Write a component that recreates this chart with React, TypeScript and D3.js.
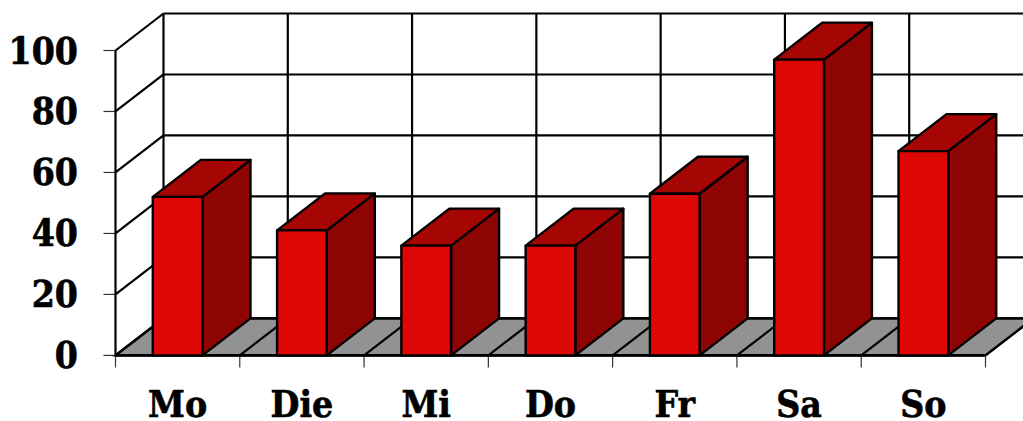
import { FC } from 'react';
import * as d3 from 'd3';

const days = ['Mo', 'Die', 'Mi', 'Do', 'Fr', 'Sa', 'So'];
const values = [52, 41, 36, 36, 53, 97, 67];
const yTicks = [0, 20, 40, 60, 80, 100];

const width = 1023;
const height = 421;
const depthX = 48;
const depthY = -37;
const labelFont = '"DejaVu Serif Condensed", "DejaVu Serif", serif';

const x = d3.scaleBand<string>()
  .domain(days)
  .range([115.5, 985.5])
  .paddingInner(0.6)
  .paddingOuter(0.3);

const y = d3.scaleLinear().domain([0, 100]).range([355.4, 50.5]);

const pts = (list: [number, number][]) => list.map(p => p.join(',')).join(' ');

const App: FC = () => {
  const x0 = x.range()[0];
  const x1 = x.range()[1];
  const step = x.step();
  const xEdges = days.map((_, i) => x0 + i * step).concat(x1);
  const stroke = { stroke: '#000', strokeLinejoin: 'round' as const };

  return (
    <svg
      width={width}
      height={height}
      style={{ position: 'absolute', left: 0, top: 0, background: '#fff' }}
    >
      {/* floor */}
      <polygon
        points={pts([
          [x0, y(0)],
          [x1, y(0)],
          [x1 + depthX, y(0) + depthY],
          [x0 + depthX, y(0) + depthY],
        ])}
        fill="#929292"
        stroke="#000"
        strokeWidth={2.2}
      />

      {/* back wall and side wall */}
      {yTicks.map(t => (
        <g key={t} {...stroke} strokeWidth={2.2}>
          <line x1={x0} y1={y(t)} x2={x0 + depthX} y2={y(t) + depthY} />
          <line x1={x0 + depthX} y1={y(t) + depthY} x2={x1 + depthX} y2={y(t) + depthY} />
          <line x1={x0 - 12} y1={y(t)} x2={x0} y2={y(t)} strokeWidth={1.2} stroke="#333" />
        </g>
      ))}
      {xEdges.map((e, i) => (
        <g key={i} {...stroke}>
          <line x1={e} y1={y(0)} x2={e + depthX} y2={y(0) + depthY} strokeWidth={2.2} />
          <line x1={e + depthX} y1={y(0) + depthY} x2={e + depthX} y2={y(100) + depthY} strokeWidth={2.2} />
          <line x1={e} y1={y(0)} x2={e} y2={y(0) + 12} strokeWidth={1.2} stroke="#333" />
        </g>
      ))}
      <line x1={x0} y1={y(0)} x2={x0} y2={y(100)} {...stroke} strokeWidth={2.2} />
      <line x1={x0} y1={y(0)} x2={x1} y2={y(0)} {...stroke} strokeWidth={2.8} />

      {/* bars */}
      {days.map((d, i) => {
        const left = x(d) as number;
        const right = left + x.bandwidth();
        const top = y(values[i]);
        const base = y(0);
        return (
          <g key={d} {...stroke} strokeWidth={2.4}>
            <polygon
              points={pts([
                [right, base],
                [right + depthX, base + depthY],
                [right + depthX, top + depthY],
                [right, top],
              ])}
              fill="#8e0402"
            />
            <polygon
              points={pts([
                [left, top],
                [right, top],
                [right + depthX, top + depthY],
                [left + depthX, top + depthY],
              ])}
              fill="#a50503"
            />
            <rect x={left} y={top} width={right - left} height={base - top} fill="#dd0806" />
          </g>
        );
      })}

      {/* labels */}
      <g fontFamily={labelFont} fontWeight="bold" fontSize={37} fill="#000" stroke="#000" strokeWidth={0.6}>
        {yTicks.map(t => (
          <text key={t} x={78} y={y(t) + 13} textAnchor="end">
            {t}
          </text>
        ))}
        {days.map(d => (
          <text key={d} x={(x(d) as number) + x.bandwidth() / 2} y={417} textAnchor="middle">
            {d}
          </text>
        ))}
      </g>
    </svg>
  );
};

export default App;
